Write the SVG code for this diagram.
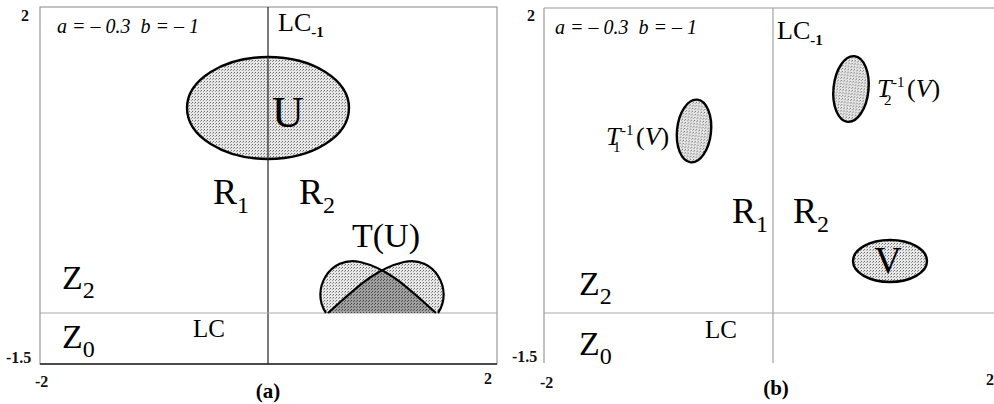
<svg xmlns="http://www.w3.org/2000/svg" width="994" height="404" viewBox="0 0 994 404">
<style>
.s{font-family:"Liberation Serif","Times New Roman",serif;fill:#000}
.it{font-style:italic}
.b{font-weight:bold}
.ax{font-family:"Liberation Serif","Times New Roman",serif;font-weight:bold;font-size:16px;fill:#111}
.fr{stroke:#999;stroke-width:1.2;fill:none}
.el{stroke:#000;stroke-width:2.4;fill:url(#lt)}
</style>
<defs>
<pattern id="lt" width="3" height="3" patternUnits="userSpaceOnUse">
<rect width="3" height="3" fill="#e8e8e8"/>
<rect width="1" height="1" fill="#6a6a6a"/>
<rect x="2" y="1" width="1" height="1" fill="#999"/>
</pattern>
<pattern id="dkp" width="3" height="3" patternUnits="userSpaceOnUse">
<rect width="3" height="3" fill="#a0a0a0"/>
<rect width="1" height="1" fill="#444"/>
<rect x="2" y="1" width="1" height="1" fill="#555"/>
</pattern>
<clipPath id="cA"><path d="M326,313 C310,290 330,255 360,262 S410,290 436,313 Z"/></clipPath>
</defs>

<!-- Panel (a) -->
<g id="panel-a">
<rect class="fr" x="40" y="7" width="457" height="357"/>
<line x1="40" y1="364" x2="497" y2="364" stroke="#222" stroke-width="1.3"/>
<text class="ax" x="21" y="21">2</text>
<text class="ax" x="6" y="363">-1.5</text>
<text class="ax" x="35" y="387">-2</text>
<text class="ax" x="484" y="384">2</text>
<text class="s b" x="268" y="398" font-size="21" text-anchor="middle">(a)</text>
<text class="s it" x="57" y="33" font-size="20" xml:space="preserve">a = – 0.3  b = – 1</text>
</g>
<g id="connectors">
<line x1="268" y1="7" x2="268" y2="364" stroke="#333" stroke-width="1.3"/>
<line x1="40" y1="313" x2="497" y2="313" stroke="#aaa" stroke-width="1.2"/>
<line x1="544" y1="8" x2="994" y2="8" class="fr"/>
<line x1="544" y1="8" x2="544" y2="363" class="fr"/>
<line x1="773" y1="8" x2="773" y2="363" stroke="#aaa" stroke-width="1.3"/>
<line x1="544" y1="313" x2="994" y2="313" stroke="#aaa" stroke-width="1.2"/>
</g>
<g id="LCm1-a"><text class="s" x="278" y="31" font-size="26">LC<tspan class="b" font-size="15" dy="6">-1</tspan></text></g>
<g id="LC-a"><text class="s" x="193" y="337" font-size="25">LC</text></g>
<g id="U">
<ellipse cx="268" cy="108" rx="81" ry="51" class="el" stroke-width="2"/>
<line x1="268" y1="57" x2="268" y2="159" stroke="#333" stroke-width="1.3"/>
<text class="s" x="272" y="127" font-size="44">U</text>
</g>
<g id="R1-a"><text class="s" x="213" y="204" font-size="36">R<tspan font-size="24" dy="9">1</tspan></text></g>
<g id="R2-a"><text class="s" x="299" y="204" font-size="36">R<tspan font-size="24" dy="9">2</tspan></text></g>
<g id="Z2-a"><text class="s" x="62" y="289" font-size="34">Z<tspan font-size="24" dy="9">2</tspan></text></g>
<g id="Z0-a"><text class="s" x="62" y="348" font-size="34">Z<tspan font-size="24" dy="9">0</tspan></text></g>
<g id="TU">
<path d="M326,313 C310,290 330,255 360,262 S410,290 436,313 Z" fill="url(#lt)"/>
<path d="M438,313 C454,290 434,255 404,262 S354,290 328,313 Z" fill="url(#lt)"/>
<path d="M438,313 C454,290 434,255 404,262 S354,290 328,313 Z" fill="url(#dkp)" clip-path="url(#cA)"/>
<path d="M326,313 C310,290 330,255 360,262 S410,290 436,313" fill="none" stroke="#000" stroke-width="2.2"/>
<path d="M438,313 C454,290 434,255 404,262 S354,290 328,313" fill="none" stroke="#000" stroke-width="2.2"/>
<text class="s" x="352" y="247" font-size="34">T(U)</text>
</g>

<!-- Panel (b) -->
<g id="panel-b">
<text class="ax" x="527" y="21">2</text>
<text class="ax" x="512" y="362">-1.5</text>
<text class="ax" x="540" y="388">-2</text>
<text class="ax" x="986" y="385">2</text>
<text class="s b" x="776" y="395" font-size="21" text-anchor="middle">(b)</text>
<text class="s it" x="555" y="34" font-size="20" xml:space="preserve">a = – 0.3  b = – 1</text>
</g>
<g id="LCm1-b"><text class="s" x="777" y="39" font-size="26">LC<tspan class="b" font-size="15" dy="6">-1</tspan></text></g>
<g id="LC-b"><text class="s" x="705" y="338" font-size="25">LC</text></g>
<g id="T1V">
<ellipse cx="694" cy="131" rx="17" ry="31.5" transform="rotate(6 694 131)" class="el"/>
<text class="s" font-size="26"><tspan class="it" x="606" y="145">T</tspan><tspan font-size="15" x="621" y="135">-1</tspan><tspan font-size="15" x="613" y="152">1</tspan><tspan x="636" y="145">(</tspan><tspan class="it">V</tspan><tspan>)</tspan></text>
</g>
<g id="T2V">
<ellipse cx="851" cy="89" rx="17.5" ry="33" transform="rotate(6 851 89)" class="el"/>
<text class="s" font-size="26"><tspan class="it" x="877" y="97">T</tspan><tspan font-size="15" x="892" y="87">-1</tspan><tspan font-size="15" x="884" y="105">2</tspan><tspan x="907" y="97">(</tspan><tspan class="it">V</tspan><tspan>)</tspan></text>
</g>
<g id="V">
<ellipse cx="890" cy="261" rx="37" ry="21" class="el"/>
<text class="s" x="888" y="273" font-size="38" text-anchor="middle">V</text>
</g>
<g id="R1-b"><text class="s" x="732" y="223" font-size="36">R<tspan font-size="24" dy="9">1</tspan></text></g>
<g id="R2-b"><text class="s" x="793" y="223" font-size="36">R<tspan font-size="24" dy="9">2</tspan></text></g>
<g id="Z2-b"><text class="s" x="579" y="295" font-size="34">Z<tspan font-size="24" dy="9">2</tspan></text></g>
<g id="Z0-b"><text class="s" x="579" y="355" font-size="34">Z<tspan font-size="24" dy="9">0</tspan></text></g>
</svg>
